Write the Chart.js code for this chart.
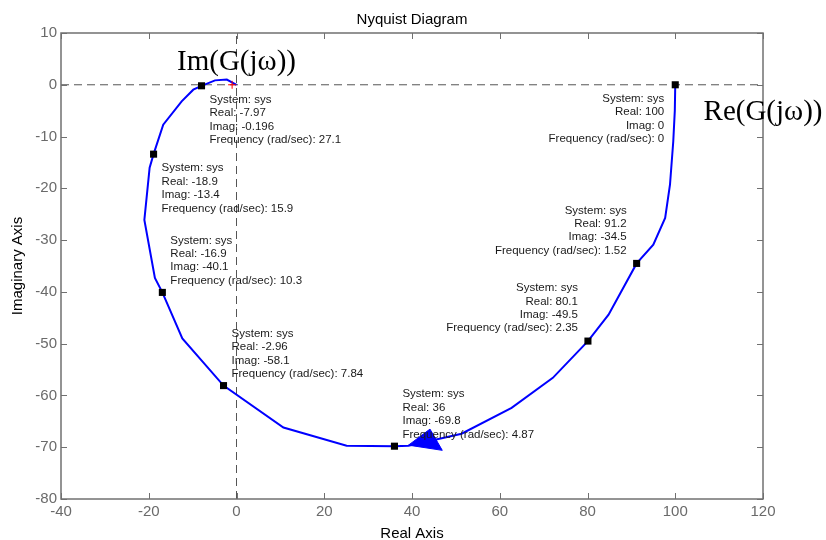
<!DOCTYPE html>
<html>
<head>
<meta charset="utf-8">
<script src="https://cdn.jsdelivr.net/npm/chart.js@4"></script>
<style>
  body { margin: 0; background: #fff; }
  canvas { display: block; }
</style>
</head>
<body>
<canvas id="nyquist" width="826" height="540"></canvas>
<script>
// Nyquist curve (omega from 0 upward)
const curveRe = [100, 99.9, 99.55, 98.8, 97.7, 95.0, 91.2, 84.8, 80.1, 72.1, 62.7, 51.3, 39.2, 36, 25.1, 10.7, -2.96, -12.35, -16.9, -18.6, -21.0, -19.8, -18.9, -16.7, -12.5, -9.85, -7.97, -4.9, -2.2, 0];
const curveIm = [0, -5, -10.9, -19.3, -25.7, -30.9, -34.5, -44.4, -49.5, -56.6, -62.4, -67.4, -69.7, -69.8, -69.7, -66.2, -58.1, -49.0, -40.1, -37.3, -26.1, -16.0, -13.4, -7.7, -3.2, -0.95, -0.196, 0.85, 1.0, 0];

// data tips
const tipRe = [100, 91.2, 80.1, 36, -2.96, -16.9, -18.9, -7.97];
const tipIm = [0, -34.5, -49.5, -69.8, -58.1, -40.1, -13.4, -0.196];
const tipFreq = ["0", "1.52", "2.35", "4.87", "7.84", "10.3", "15.9", "27.1"];
const tipSide = ["below-left", "above-left", "above-left", "above-right", "above-right", "above-right", "below-right", "below-right"];

// direction arrow
const arrowRe = [39.2, 44.1, 46.9, 39.2];
const arrowIm = [-69.6, -66.5, -70.6, -69.6];

const xTicks = [-40, -20, 0, 20, 40, 60, 80, 100, 120];
const yTicks = [10, 0, -10, -20, -30, -40, -50, -60, -70, -80];

const sansFont = "'Liberation Sans', Arial, sans-serif";

function pts(xs, ys) {
  return xs.map((x, i) => ({ x: x, y: ys[i] }));
}

const frame = {
  id: "frame",
  afterDatasetsDraw(chart) {
    const ctx = chart.ctx;
    const a = chart.chartArea;
    const xs = chart.scales.x;
    const ys = chart.scales.y;
    ctx.save();

    // box + inward ticks
    ctx.strokeStyle = "#707070";
    ctx.lineWidth = 1.5;
    ctx.strokeRect(a.left, a.top, a.right - a.left, a.bottom - a.top);
    ctx.lineWidth = 1;
    ctx.beginPath();
    xTicks.forEach((v) => {
      const px = Math.round(xs.getPixelForValue(v)) + 0.5;
      ctx.moveTo(px, a.bottom); ctx.lineTo(px, a.bottom - 6);
      ctx.moveTo(px, a.top); ctx.lineTo(px, a.top + 6);
    });
    yTicks.forEach((v) => {
      const py = Math.round(ys.getPixelForValue(v)) + 0.5;
      ctx.moveTo(a.left, py); ctx.lineTo(a.left + 6, py);
      ctx.moveTo(a.right, py); ctx.lineTo(a.right - 6, py);
    });
    ctx.stroke();

    // tick labels
    ctx.fillStyle = "#6a6a6a";
    ctx.font = "15px " + sansFont;
    ctx.textAlign = "center";
    ctx.textBaseline = "middle";
    xTicks.forEach((v) => {
      ctx.fillText(String(v), xs.getPixelForValue(v), a.bottom + 13);
    });
    ctx.textAlign = "right";
    yTicks.forEach((v) => {
      ctx.fillText(String(v), a.left - 4, ys.getPixelForValue(v));
    });

    // titles
    ctx.fillStyle = "#000";
    ctx.textAlign = "center";
    const cx = (a.left + a.right) / 2;
    ctx.fillText("Nyquist Diagram", cx, 20);
    ctx.fillText("Real Axis", cx, 534);
    ctx.save();
    ctx.translate(18, (a.top + a.bottom) / 2);
    ctx.rotate(-Math.PI / 2);
    ctx.fillText("Imaginary Axis", 0, 0);
    ctx.restore();

    // data tip texts
    ctx.fillStyle = "#1a1a1a";
    ctx.font = "11.5px " + sansFont;
    ctx.textBaseline = "middle";
    tipRe.forEach((re, i) => {
      const px = xs.getPixelForValue(re);
      const py = ys.getPixelForValue(tipIm[i]);
      const lines = ["System: sys", "Real: " + re, "Imag: " + tipIm[i], "Frequency (rad/sec): " + tipFreq[i]];
      const side = tipSide[i];
      let tx, ty;
      if (side === "below-right") { tx = px + 8; ty = py + 14; ctx.textAlign = "left"; }
      else if (side === "above-right") { tx = px + 8; ty = py - 52; ctx.textAlign = "left"; }
      else if (side === "above-left") { tx = px - 10; ty = py - 53; ctx.textAlign = "right"; }
      else { tx = px - 11; ty = py + 14; ctx.textAlign = "right"; }
      lines.forEach((t, k) => ctx.fillText(t, tx, ty + k * 13.4));
    });

    // big serif labels
    ctx.fillStyle = "#000";
    ctx.font = "29px 'Liberation Serif', 'Times New Roman', serif";
    ctx.textAlign = "center";
    ctx.fillText("Im(G(j\u03c9))", xs.getPixelForValue(0), ys.getPixelForValue(4.4));
    ctx.fillText("Re(G(j\u03c9))", xs.getPixelForValue(120), ys.getPixelForValue(-5.4));

    ctx.restore();
  },
};

new Chart(document.getElementById("nyquist"), {
  type: "scatter",
  data: {
    datasets: [
      {
        data: pts(tipRe, tipIm),
        pointStyle: "rect",
        pointRadius: 5,
        backgroundColor: "#000",
        borderColor: "#000",
        borderWidth: 0,
        order: 0,
      },
      {
        data: [{ x: -1, y: 0 }],
        pointStyle: "cross",
        pointRadius: 4,
        borderColor: "#ff0000",
        borderWidth: 1,
        order: 1,
      },
      {
        data: pts(arrowRe, arrowIm),
        showLine: true,
        fill: "shape",
        backgroundColor: "#0000ff",
        borderColor: "#0000ff",
        borderWidth: 1,
        pointRadius: 0,
        order: 2,
      },
      {
        data: pts(curveRe, curveIm),
        showLine: true,
        borderColor: "#0000ff",
        borderWidth: 2,
        pointRadius: 0,
        tension: 0,
        order: 3,
      },
      {
        data: [{ x: -40, y: 0 }, { x: 120, y: 0 }],
        showLine: true,
        borderColor: "#555",
        borderWidth: 1,
        borderDash: [8, 5],
        pointRadius: 0,
        order: 4,
      },
      {
        data: [{ x: 0, y: -80 }, { x: 0, y: 10 }],
        showLine: true,
        borderColor: "#555",
        borderWidth: 1,
        borderDash: [8, 5],
        pointRadius: 0,
        order: 4,
      },
    ],
  },
  options: {
    responsive: false,
    animation: false,
    layout: { padding: { left: 61, right: 63, top: 33, bottom: 41 } },
    plugins: { legend: { display: false }, tooltip: { enabled: false } },
    scales: {
      x: { type: "linear", min: -40, max: 120, display: false },
      y: { type: "linear", min: -80, max: 10, display: false },
    },
  },
  plugins: [frame],
});
</script>
</body>
</html>
